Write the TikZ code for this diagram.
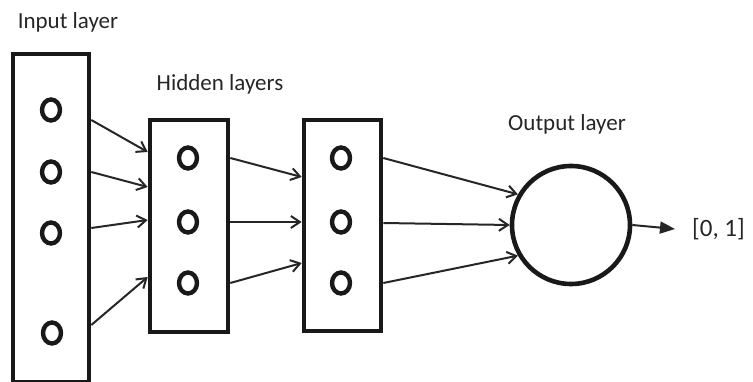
\documentclass[tikz,border=0pt]{standalone}
\usepackage{fontspec}
\setmainfont{Carlito}
\usetikzlibrary{arrows.meta,shapes.geometric,calc}

\tikzset{
  layerbox/.style={draw=black!90, line width=4.6pt, rectangle, inner sep=0pt},
  unit/.style={draw=black!90, line width=4.4pt, ellipse, minimum width=18pt, minimum height=21pt, inner sep=0pt},
  conn/.style={draw=black!85, line width=2pt, -{Straight Barb[length=9pt,width=12pt,line width=2pt]}},
  lbl/.style={font=\fontsize{23}{26}\selectfont, text=black!85}
}

\begin{document}
\begin{tikzpicture}[x=1pt,y=-1pt]
\useasboundingbox (0,0) rectangle (753,382);
% layers
\node[layerbox, minimum width=76pt, minimum height=328pt] (inlayer) at (51,218) {};
\node[layerbox, minimum width=78pt, minimum height=212pt] (hidA) at (189,226) {};
\node[layerbox, minimum width=77pt, minimum height=211pt] (hidB) at (342.5,225.5) {};
\node[draw=black!90, circle, line width=4.6pt, minimum size=118pt, inner sep=0pt] (outnode) at (571,225) {};
% units
\node[unit] (i1) at (51,110) {};
\node[unit] (i2) at (51,172) {};
\node[unit] (i3) at (51,233) {};
\node[unit] (i4) at (52,333) {};
\node[unit] (h1) at (188,158) {};
\node[unit] (h2) at (188,222) {};
\node[unit] (h3) at (188,283) {};
\node[unit] (g1) at (341,158) {};
\node[unit] (g2) at (341,222) {};
\node[unit] (g3) at (341,283) {};
% labels
\node[lbl] (intitle) at (68,22) {Input layer};
\node[lbl] (hidtitle) at (220,84) {Hidden layers};
\node[lbl] (outtitle) at (567,124) {Output layer};
\node[lbl, font=\fontsize{25}{28}\selectfont, anchor=west, inner sep=0pt] (result) at (692,229) {[0, 1]};
% connections
\draw[conn] ($(i1 -| inlayer.east)+(0,10)$) -- ($(h1 -| hidA.west)+(0,-6)$);
\draw[conn] (i2 -| inlayer.east) -- ($(h1 -| hidA.west)+(0,29)$);
\draw[conn] ($(i3 -| inlayer.east)+(0,-5)$) -- ($(h2 -| hidA.west)+(0,-2)$);
\draw[conn] ($(i4 -| inlayer.east)+(0,-8)$) -- ($(h3 -| hidA.west)+(0,-6)$);
\draw[conn] (h1 -| hidA.east) -- ($(g1 -| hidB.west)+(0,19)$);
\draw[conn] (h2 -| hidA.east) -- (g2 -| hidB.west);
\draw[conn] (h3 -| hidA.east) -- ($(g3 -| hidB.west)+(0,-20)$);
\draw[conn] (g1 -| hidB.east) -- (outnode.150);
\draw[conn] ($(g2 -| hidB.east)+(0,1)$) -- (outnode.west);
\draw[conn] (g3 -| hidB.east) -- (outnode.210);
\draw[draw=black!85, line width=2pt, -{Triangle[length=15pt,width=12pt]}] (outnode.east) -- ([xshift=-17pt]result.west);
\end{tikzpicture}
\end{document}
